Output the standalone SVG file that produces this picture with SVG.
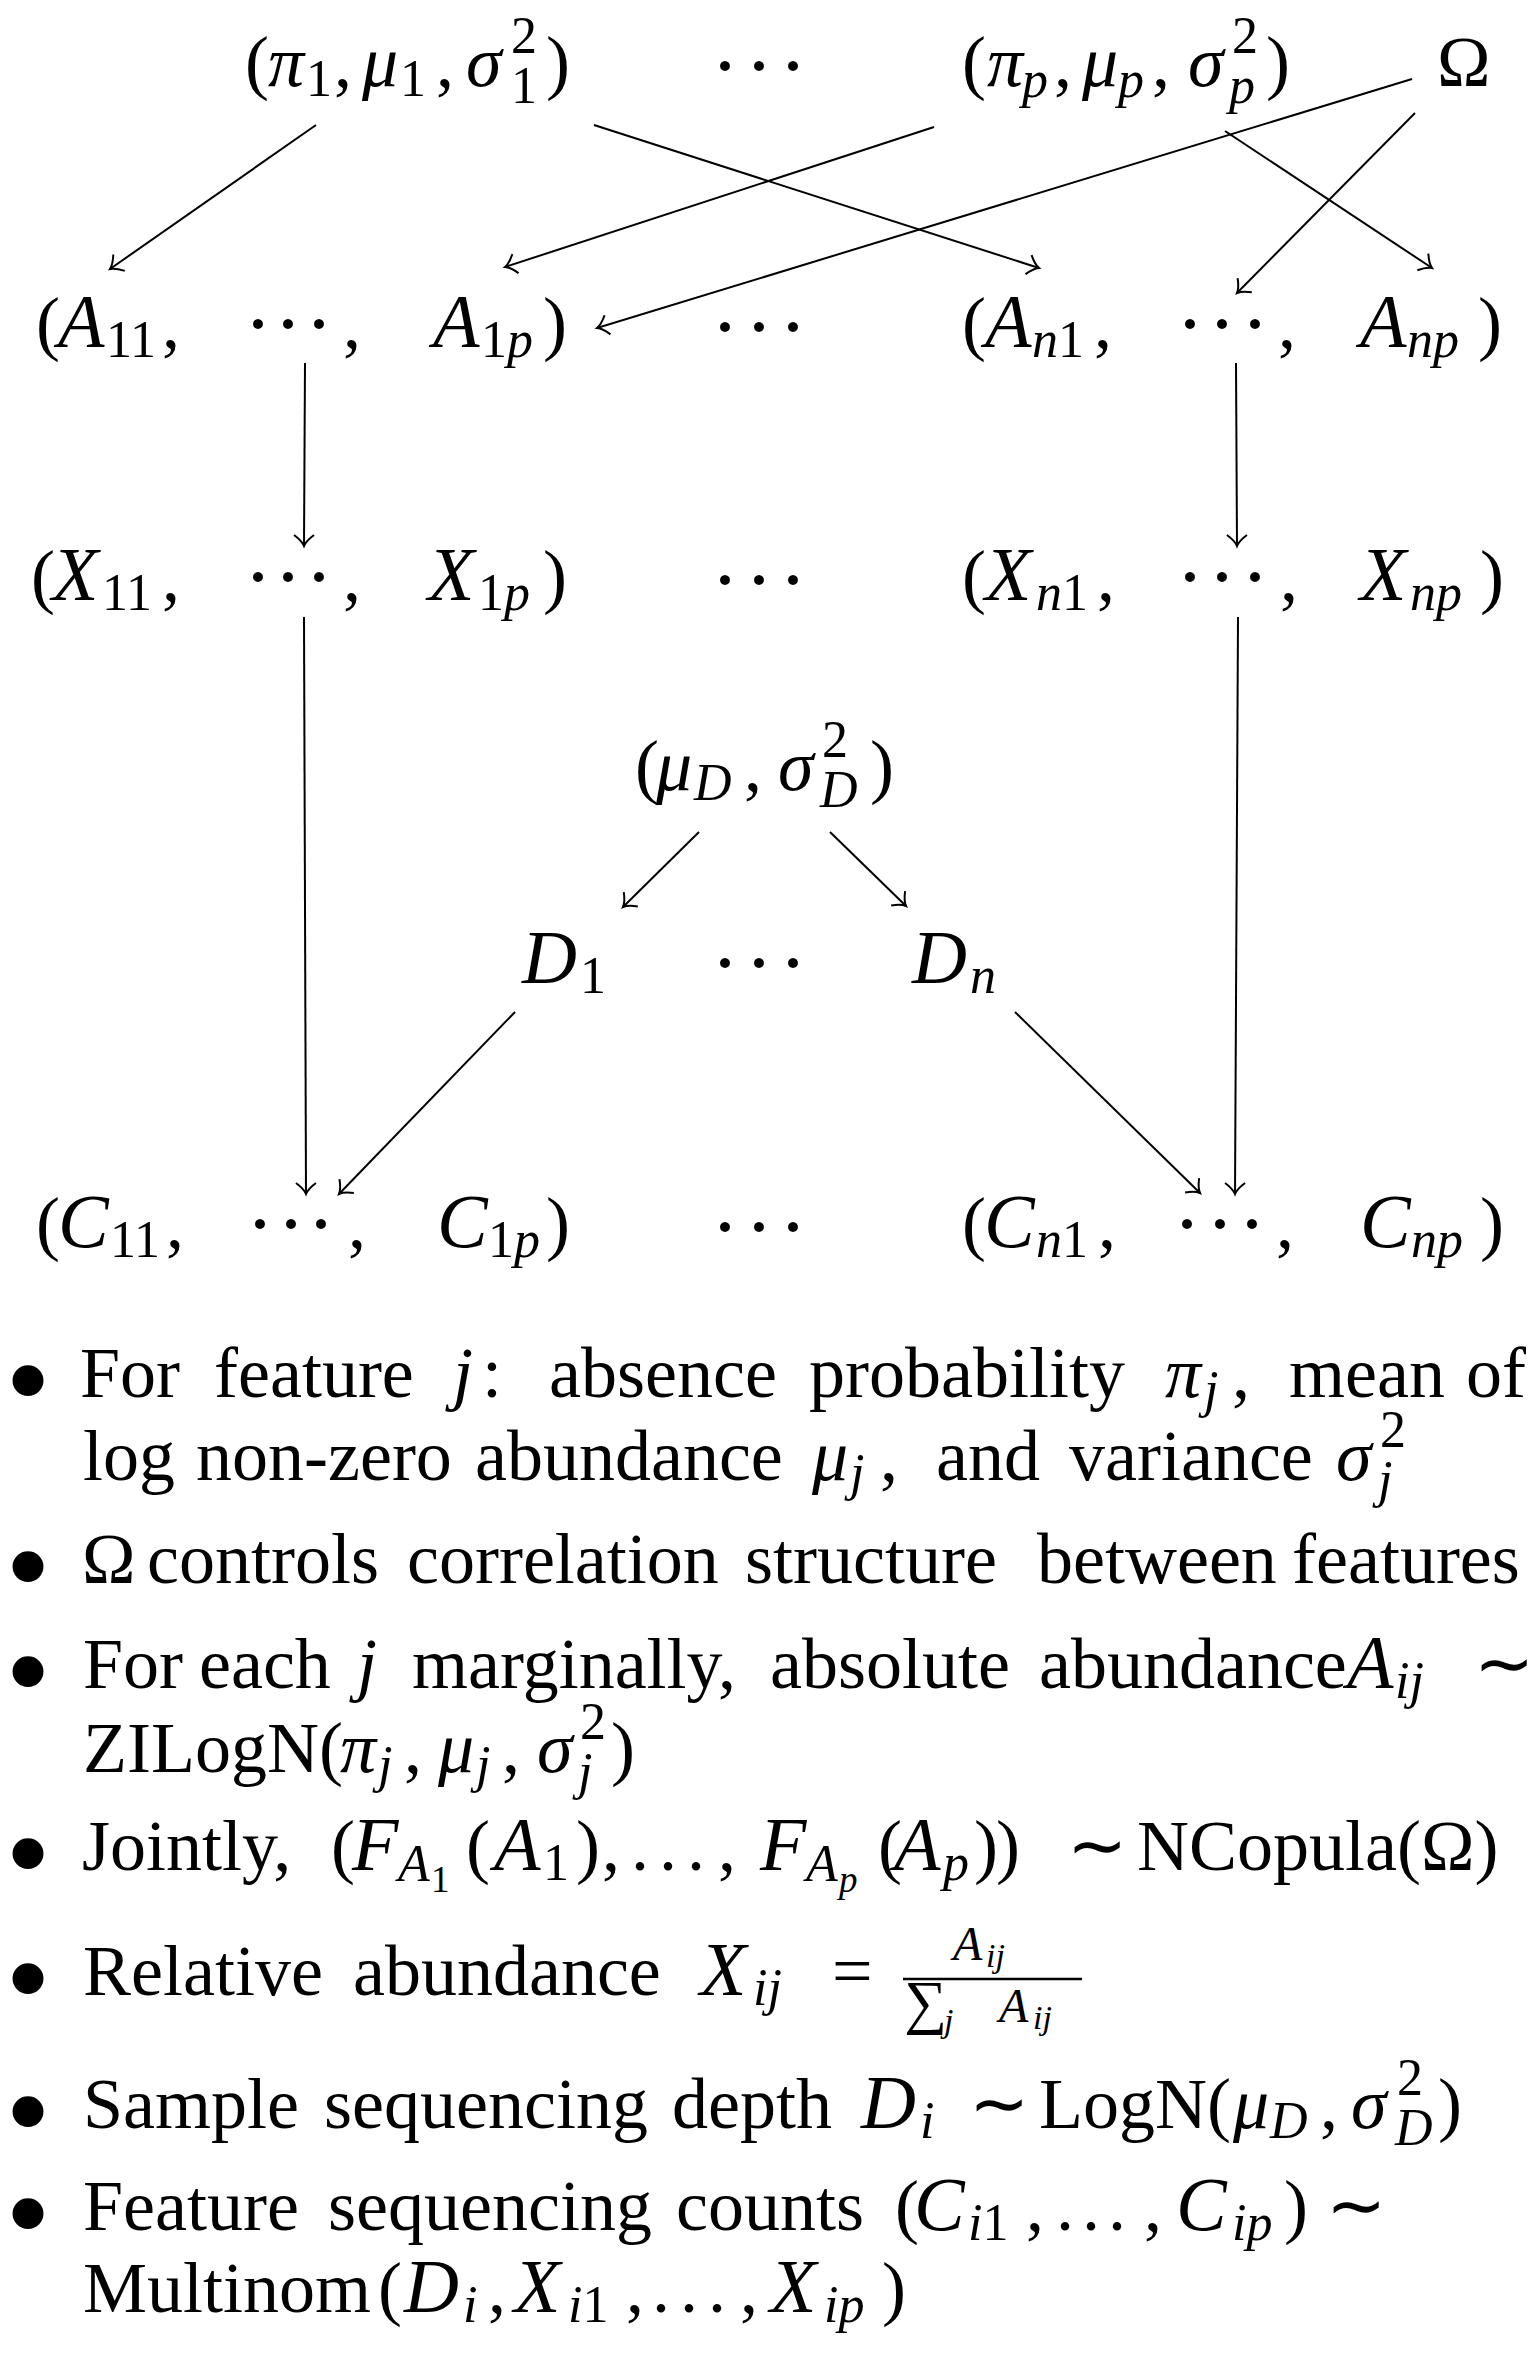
<svg xmlns="http://www.w3.org/2000/svg" width="1535" height="2362" viewBox="0 0 1535 2362">
<style>
text { font-family: "Liberation Serif", "Times New Roman", serif; fill: #000; }
.m { font-size: 72px; }
.i { font-style: italic; }
.I { font-style: italic; font-size: 76px; }
.s { font-size: 52px; }
.ss { font-size: 37px; }
.fr { font-size: 48px; }
.fs { font-size: 34px; }
.sum { font-size: 60px; }
.dots { font-size: 84px; text-anchor: middle; }
.bul { font-size: 130px; text-anchor: middle; }
.c { fill: none; stroke: #000; stroke-width: 2; marker-end: url(#arr); }
.bar { stroke: #000; stroke-width: 2.5; }
</style>
<defs>
<marker id="arr" viewBox="-15 -15 30 30" markerWidth="30" markerHeight="30" refX="0" refY="0" orient="auto" markerUnits="userSpaceOnUse">
<path d="M-11,-10 Q-5,-2 0,0 Q-5,2 -11,10" fill="none" stroke="#000" stroke-width="2"/>
</marker>
</defs>
<rect width="1535" height="2362" fill="#fff"/>

<g id="connectors">
<path class="c" d="M316,125 L110,269"/>
<path class="c" d="M594,125 L1039,268"/>
<path class="c" d="M934,127 L505,267"/>
<path class="c" d="M1412,79 L597,328"/>
<path class="c" d="M1225,131 L1432,268"/>
<path class="c" d="M1415,113 L1237,293"/>
<path class="c" d="M305,363 L304,546"/>
<path class="c" d="M1236,363 L1237,546"/>
<path class="c" d="M304,617 L306,1194"/>
<path class="c" d="M1238,617 L1235,1194"/>
<path class="c" d="M699,832 L623,907"/>
<path class="c" d="M830,832 L906,906"/>
<path class="c" d="M515,1012 L339,1194"/>
<path class="c" d="M1015,1012 L1200,1193"/>
</g>

<g id="params1">
<text class="m" y="86"><tspan x="245">(</tspan><tspan class="i" x="268">π</tspan><tspan class="s" x="306" y="96">1</tspan><tspan x="334" y="86">,</tspan><tspan class="i" x="362">μ</tspan><tspan class="s" x="400" y="96">1</tspan><tspan x="436" y="86">,</tspan><tspan class="i" x="466">σ</tspan><tspan class="s" x="511" y="53">2</tspan><tspan class="s" x="511" y="103">1</tspan><tspan x="546" y="86">)</tspan></text>
</g>
<g id="dots-top"><text class="dots" x="725 759 793" y="94">···</text></g>
<g id="paramsp">
<text class="m" y="86"><tspan x="962">(</tspan><tspan class="i" x="987">π</tspan><tspan class="s i" x="1022" y="97">p</tspan><tspan x="1054" y="86">,</tspan><tspan class="i" x="1082">μ</tspan><tspan class="s i" x="1118" y="97">p</tspan><tspan x="1152" y="86">,</tspan><tspan class="i" x="1188">σ</tspan><tspan class="s" x="1232" y="53">2</tspan><tspan class="s i" x="1229" y="103">p</tspan><tspan x="1266" y="86">)</tspan></text>
</g>
<g id="omega"><text class="m" x="1437" y="86">Ω</text></g>

<g id="A1">
<text class="m" y="347"><tspan x="36">(</tspan><tspan class="I" x="58">A</tspan><tspan class="s" x="106" y="357">11</tspan><tspan x="162" y="347">,</tspan></text>
<text class="dots" x="258 288 319" y="352">···</text>
<text class="m" x="343" y="347">,</text>
<text class="m" y="347"><tspan class="I" x="433">A</tspan><tspan class="s" x="481" y="357">1</tspan><tspan class="s i">p</tspan><tspan x="543" y="347">)</tspan></text>
</g>
<g id="dots-A"><text class="dots" x="725 759 793" y="355">···</text></g>
<g id="An">
<text class="m" y="347"><tspan x="962">(</tspan><tspan class="I" x="985">A</tspan><tspan class="s i" x="1032" y="357">n</tspan><tspan class="s">1</tspan><tspan x="1094" y="347">,</tspan></text>
<text class="dots" x="1190 1222 1255" y="352">···</text>
<text class="m" x="1278" y="347">,</text>
<text class="m" y="347"><tspan class="I" x="1360">A</tspan><tspan class="s i" x="1407" y="357">np</tspan><tspan x="1478" y="347">)</tspan></text>
</g>

<g id="X1">
<text class="m" y="600"><tspan x="31">(</tspan><tspan class="I" x="52">X</tspan><tspan class="s" x="102" y="610">11</tspan><tspan x="162" y="600">,</tspan></text>
<text class="dots" x="258 288 319" y="605">···</text>
<text class="m" x="343" y="600">,</text>
<text class="m" y="600"><tspan class="I" x="428">X</tspan><tspan class="s" x="478" y="610">1</tspan><tspan class="s i">p</tspan><tspan x="543" y="600">)</tspan></text>
</g>
<g id="dots-X"><text class="dots" x="725 759 793" y="608">···</text></g>
<g id="Xn">
<text class="m" y="600"><tspan x="962">(</tspan><tspan class="I" x="985">X</tspan><tspan class="s i" x="1036" y="610">n</tspan><tspan class="s">1</tspan><tspan x="1097" y="600">,</tspan></text>
<text class="dots" x="1190 1222 1255" y="605">···</text>
<text class="m" x="1280" y="600">,</text>
<text class="m" y="600"><tspan class="I" x="1360">X</tspan><tspan class="s i" x="1410" y="610">np</tspan><tspan x="1480" y="600">)</tspan></text>
</g>

<g id="depthparams">
<text class="m" y="790"><tspan x="635">(</tspan><tspan class="i" x="656">μ</tspan><tspan class="s i" x="694" y="800">D</tspan><tspan x="744" y="790">,</tspan><tspan class="i" x="778">σ</tspan><tspan class="s" x="822" y="757">2</tspan><tspan class="s i" x="820" y="807">D</tspan><tspan x="870" y="790">)</tspan></text>
</g>

<g id="D1"><text class="m" y="983"><tspan class="I" x="522">D</tspan><tspan class="s" x="580" y="993">1</tspan></text></g>
<g id="dots-D"><text class="dots" x="725 759 793" y="991">···</text></g>
<g id="Dn"><text class="m" y="983"><tspan class="I" x="912">D</tspan><tspan class="s i" x="970" y="993">n</tspan></text></g>

<g id="C1">
<text class="m" y="1247"><tspan x="36">(</tspan><tspan class="I" x="58">C</tspan><tspan class="s" x="110" y="1257">11</tspan><tspan x="166" y="1247">,</tspan></text>
<text class="dots" x="260 291 321" y="1252">···</text>
<text class="m" x="348" y="1247">,</text>
<text class="m" y="1247"><tspan class="I" x="437">C</tspan><tspan class="s" x="488" y="1257">1</tspan><tspan class="s i">p</tspan><tspan x="546" y="1247">)</tspan></text>
</g>
<g id="dots-C"><text class="dots" x="725 759 793" y="1255">···</text></g>
<g id="Cn">
<text class="m" y="1247"><tspan x="962">(</tspan><tspan class="I" x="984">C</tspan><tspan class="s i" x="1036" y="1257">n</tspan><tspan class="s">1</tspan><tspan x="1098" y="1247">,</tspan></text>
<text class="dots" x="1187 1220 1252" y="1252">···</text>
<text class="m" x="1276" y="1247">,</text>
<text class="m" y="1247"><tspan class="I" x="1360">C</tspan><tspan class="s i" x="1411" y="1257">np</tspan><tspan x="1480" y="1247">)</tspan></text>
</g>

<g id="notes">
<text class="bul" x="28" y="1423">•</text>
<text class="m" y="1397"><tspan x="80">For</tspan><tspan x="214">feature</tspan><tspan class="i" x="453">j</tspan><tspan x="482">:</tspan><tspan x="549">absence</tspan><tspan x="809">probability</tspan><tspan class="i" x="1165">π</tspan><tspan class="s i" x="1204" y="1407">j</tspan><tspan x="1232" y="1397">,</tspan><tspan x="1289">mean</tspan><tspan x="1466">of</tspan></text>
<text class="m" y="1480"><tspan x="83">log</tspan><tspan x="196">non-zero</tspan><tspan x="475">abundance</tspan><tspan class="i" x="812">μ</tspan><tspan class="s i" x="850" y="1490">j</tspan><tspan x="880" y="1480">,</tspan><tspan x="936">and</tspan><tspan x="1069">variance</tspan><tspan class="i" x="1336">σ</tspan><tspan class="s" x="1380" y="1447">2</tspan><tspan class="s i" x="1378" y="1497">j</tspan></text>

<text class="bul" x="28" y="1609">•</text>
<text class="m" y="1583"><tspan x="82">Ω</tspan><tspan x="147">controls</tspan><tspan x="407">correlation</tspan><tspan x="745">structure</tspan><tspan x="1037">between</tspan><tspan x="1292">features</tspan></text>

<text class="bul" x="28" y="1714">•</text>
<text class="m" y="1688"><tspan x="83">For</tspan><tspan x="199">each</tspan><tspan class="i" x="357">j</tspan><tspan x="412">marginally,</tspan><tspan x="770">absolute</tspan><tspan x="1039">abundance</tspan><tspan class="I" x="1347">A</tspan><tspan class="s i" x="1395" y="1698">ij</tspan><tspan x="1474" y="1688">∼</tspan></text>
<text class="m" y="1772"><tspan x="83">ZILogN(</tspan><tspan class="i" x="340">π</tspan><tspan class="s i" x="378" y="1782">j</tspan><tspan x="404" y="1772">,</tspan><tspan class="i" x="438">μ</tspan><tspan class="s i" x="476" y="1782">j</tspan><tspan x="502" y="1772">,</tspan><tspan class="i" x="537">σ</tspan><tspan class="s" x="580" y="1739">2</tspan><tspan class="s i" x="578" y="1789">j</tspan><tspan x="611" y="1772">)</tspan></text>

<text class="bul" x="28" y="1896">•</text>
<text class="m" y="1870"><tspan x="82">Jointly,</tspan><tspan x="331">(</tspan><tspan class="I" x="352">F</tspan><tspan class="s i" x="398" y="1881">A</tspan><tspan class="ss" x="431" y="1892">1</tspan><tspan x="466" y="1870">(</tspan><tspan class="I" x="494">A</tspan><tspan class="s" x="543" y="1880">1</tspan><tspan x="576" y="1870">)</tspan><tspan x="602">,</tspan><tspan x="631">.</tspan><tspan x="659">.</tspan><tspan x="687">.</tspan><tspan x="718">,</tspan><tspan class="I" x="760">F</tspan><tspan class="s i" x="806" y="1881">A</tspan><tspan class="ss i" x="839" y="1892">p</tspan><tspan x="878" y="1870">(</tspan><tspan class="I" x="894">A</tspan><tspan class="s i" x="943" y="1880">p</tspan><tspan x="974" y="1870">)</tspan><tspan x="996">)</tspan><tspan x="1067">∼</tspan><tspan x="1137">NCopula(Ω)</tspan></text>

<text class="bul" x="28" y="2021">•</text>
<text class="m" y="1995"><tspan x="83">Relative</tspan><tspan x="353">abundance</tspan><tspan class="I" x="700">X</tspan><tspan class="s i" x="753" y="2005">ij</tspan><tspan x="832" y="1995">=</tspan></text>
<text class="fr" y="1960"><tspan class="i" x="953">A</tspan><tspan class="fs i" x="986" y="1967">ij</tspan></text>
<line class="bar" x1="903" y1="1979" x2="1082" y2="1979"/>
<text class="fr" y="2022"><tspan class="sum" x="904">∑</tspan><tspan class="fs i" x="944" y="2032">j</tspan><tspan class="i" x="999" y="2022">A</tspan><tspan class="fs i" x="1033" y="2029">ij</tspan></text>

<text class="bul" x="28" y="2154">•</text>
<text class="m" y="2128"><tspan x="83">Sample</tspan><tspan x="324">sequencing</tspan><tspan x="672">depth</tspan><tspan class="I" x="861">D</tspan><tspan class="s i" x="920" y="2138">i</tspan><tspan x="969" y="2128">∼</tspan><tspan x="1039">LogN(</tspan><tspan class="i" x="1233">μ</tspan><tspan class="s i" x="1270" y="2138">D</tspan><tspan x="1320" y="2128">,</tspan><tspan class="i" x="1351">σ</tspan><tspan class="s" x="1397" y="2095">2</tspan><tspan class="s i" x="1395" y="2145">D</tspan><tspan x="1438" y="2128">)</tspan></text>

<text class="bul" x="28" y="2256">•</text>
<text class="m" y="2230"><tspan x="83">Feature</tspan><tspan x="328">sequencing</tspan><tspan x="676">counts</tspan><tspan x="895">(</tspan><tspan class="I" x="914">C</tspan><tspan class="s i" x="968" y="2240">i</tspan><tspan class="s">1</tspan><tspan x="1026" y="2230">,</tspan><tspan x="1056">.</tspan><tspan x="1082">.</tspan><tspan x="1108">.</tspan><tspan x="1144">,</tspan><tspan class="I" x="1176">C</tspan><tspan class="s i" x="1232" y="2240">ip</tspan><tspan x="1284" y="2230">)</tspan><tspan x="1326">∼</tspan></text>
<text class="m" y="2312"><tspan x="83">Multinom</tspan><tspan x="378">(</tspan><tspan class="I" x="404">D</tspan><tspan class="s i" x="463" y="2322">i</tspan><tspan x="488" y="2312">,</tspan><tspan class="I" x="514">X</tspan><tspan class="s i" x="568" y="2322">i</tspan><tspan class="s">1</tspan><tspan x="626" y="2312">,</tspan><tspan x="652">.</tspan><tspan x="680">.</tspan><tspan x="708">.</tspan><tspan x="740">,</tspan><tspan class="I" x="770">X</tspan><tspan class="s i" x="824" y="2322">ip</tspan><tspan x="882" y="2312">)</tspan></text>
</g>
</svg>
